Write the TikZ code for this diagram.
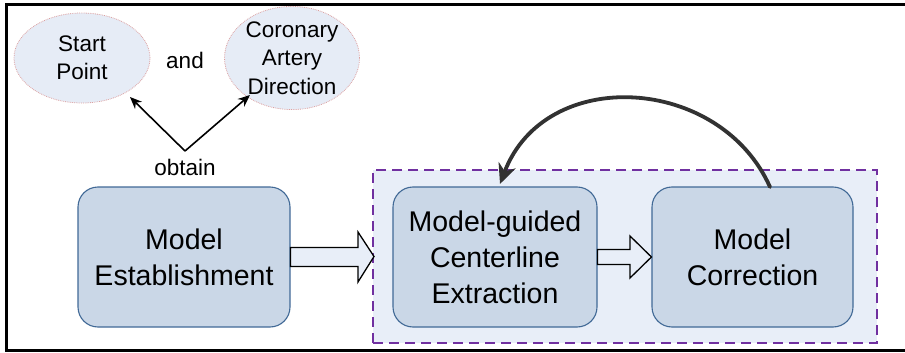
\documentclass[tikz,border=0pt]{standalone}
\usepackage{fontspec}
\setmainfont{Liberation Sans}
\usetikzlibrary{calc,arrows.meta,shapes.geometric}
\definecolor{boxfill}{RGB}{202,215,231}
\definecolor{boxline}{RGB}{65,105,150}
\definecolor{ellfill}{RGB}{230,236,246}
\definecolor{ellline}{RGB}{220,160,160}
\definecolor{regfill}{RGB}{232,238,248}
\definecolor{purp}{RGB}{112,48,160}
\definecolor{arcgray}{RGB}{50,50,50}
\tikzset{
  bigbox/.style={draw=boxline, fill=boxfill, line width=1.1pt, rounded corners=20pt, align=center,
    font=\fontsize{28.5}{36}\selectfont, inner sep=0pt},
  ell/.style={ellipse, draw=ellline, densely dotted, fill=ellfill, line width=0.8pt, align=center,
    font=\fontsize{22.5}{28.5}\selectfont, inner sep=0pt},
  lbl/.style={font=\fontsize{22.5}{26}\selectfont, inner sep=0pt},
  blockarrow/.style={draw=black, fill=regfill, line width=1.3pt, line join=miter},
  thinarrow/.style={-{Stealth[length=12pt,width=10pt]}, line width=1.6pt},
}
\begin{document}
\begin{tikzpicture}[x=1pt,y=-1pt]
\useasboundingbox (0,0) rectangle (905,353);
% outer frame (left, top, bottom)
\draw[line width=3pt] (905,4.5) -- (6.5,4.5) -- (6.5,350.5) -- (905,350.5);
% dashed region
\node[draw=purp, dashed, dash pattern=on 10pt off 6pt, line width=2pt, fill=regfill,
  minimum width=504pt, minimum height=173pt, inner sep=0pt] (region) at (625,256.5) {};
% ellipses
\node[ell, minimum width=136pt, minimum height=90pt] (sp) at (82,58) {Start\\Point};
\node[ell, minimum width=135pt, minimum height=90pt] (cad) at (292,58) {Coronary\\Artery\\Direction};
\node[lbl] (and) at (185,60) {and};
\node[lbl] (obtain) at (185,167) {obtain};
\coordinate (apex) at (185,151);
\coordinate (tipa) at (130,97);
\coordinate (tipb) at (250,95);
\draw[thinarrow] (apex) -- (tipa);
\draw[thinarrow] (apex) -- (tipb);
% boxes
\node[bigbox, minimum width=212pt, minimum height=140pt] (me) at (184,257) {Model\\Establishment};
\node[bigbox, minimum width=204pt, minimum height=140pt] (mg) at (495,257) {Model-guided\\Centerline\\Extraction};
\node[bigbox, minimum width=201pt, minimum height=140pt] (mc) at (752.5,257) {Model\\Correction};
% block arrow 1
\draw[blockarrow] ($(me.east)+(0,-9.5)$) -- (358,247.5) -- (358,232) -- ($(region.west)+(2,0)$)
  -- (358,282) -- (358,266.5) -- ($(me.east)+(0,9.5)$) -- cycle;
% block arrow 2
\draw[blockarrow] ($(mg.east)+(0,-7.5)$) -- (630,249.5) -- (630,236) -- (mc.west)
  -- (630,278) -- (630,264.5) -- ($(mg.east)+(0,7.5)$) -- cycle;
% feedback arc
\coordinate (arcstart) at (770,187);
\coordinate (arcend) at (500,184);
\draw[arcgray, line width=3.8pt, line cap=round, -{Stealth[length=20pt,width=18pt]}]
  (arcstart) .. controls (720,75) and (545,65) .. (arcend);
\end{tikzpicture}
\end{document}
